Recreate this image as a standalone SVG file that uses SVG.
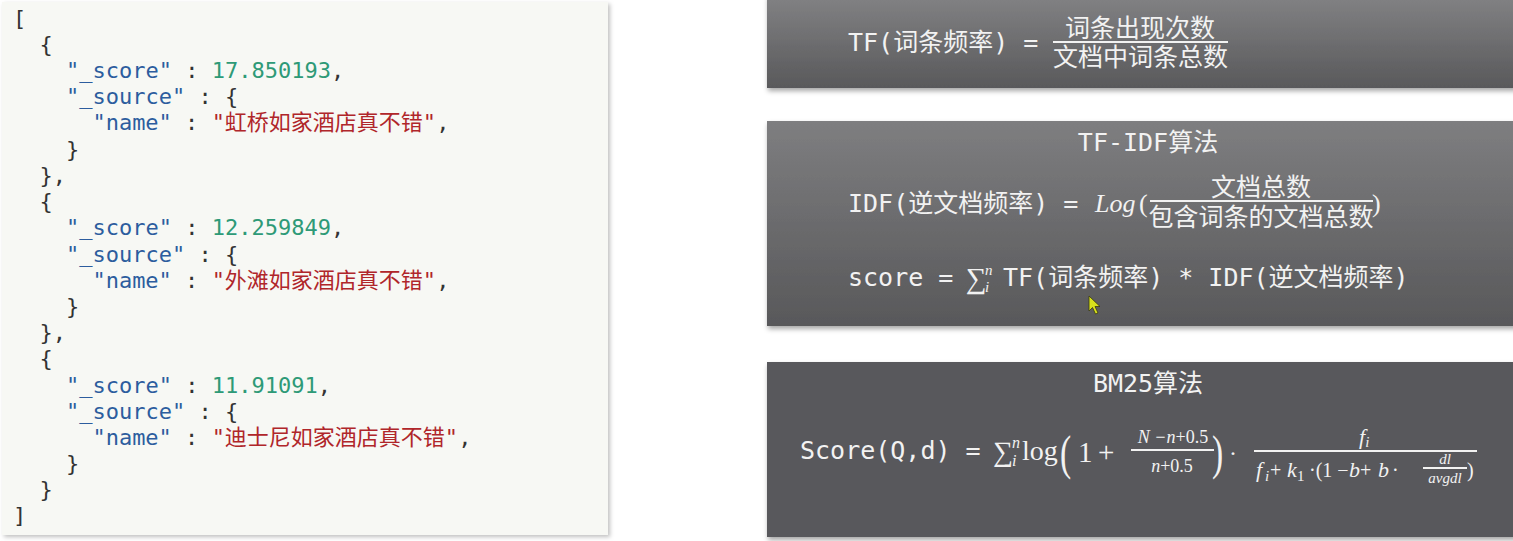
<svg xmlns="http://www.w3.org/2000/svg" width="1513" height="541" viewBox="0 0 1513 541">
<defs>
<linearGradient id="g1" x1="0" y1="0" x2="0" y2="1"><stop offset="0" stop-color="#828284"/><stop offset="1" stop-color="#59595b"/></linearGradient>
<linearGradient id="g2" x1="0" y1="0" x2="0" y2="1"><stop offset="0" stop-color="#7e7e80"/><stop offset="1" stop-color="#58585a"/></linearGradient>
<filter id="sh" x="-5%" y="-10%" width="110%" height="130%"><feDropShadow dx="1" dy="3" stdDeviation="2.5" flood-color="#000" flood-opacity="0.35"/></filter>
<filter id="sh2" x="-5%" y="-5%" width="110%" height="110%"><feDropShadow dx="2" dy="2" stdDeviation="2" flood-color="#000" flood-opacity="0.25"/></filter>
</defs>
<style>
.code{font-family:"DejaVu Sans Mono","Noto Sans CJK SC",monospace;font-size:22px;fill:#333}
.k{fill:#2c5d9e}.n{fill:#2e9a77}.s{fill:#b0262a}
.w{font-family:"DejaVu Sans Mono","Noto Sans CJK SC",monospace;font-size:25px;fill:#f2f2f2}
.m{font-family:"Liberation Serif","DejaVu Serif",serif;fill:#f2f2f2}
.it{font-style:italic}
.ln{stroke:#f2f2f2;stroke-width:2}
</style>
<rect width="1513" height="541" fill="#ffffff"/>
<g id="code-panel">
<rect x="2" y="2" width="606" height="533" fill="#f7f8f4" filter="url(#sh2)"/>
<text class="code" x="13" y="26">[</text>
<text class="code" x="39.5" y="52">{</text>
<text class="code" x="66" y="78"><tspan class="k">"_score"</tspan> : <tspan class="n">17.850193</tspan>,</text>
<text class="code" x="66" y="104"><tspan class="k">"_source"</tspan> : {</text>
<text class="code" x="92.4" y="130"><tspan class="k">"name"</tspan> : <tspan class="s">"虹桥如家酒店真不错"</tspan>,</text>
<text class="code" x="66" y="157">}</text>
<text class="code" x="39.5" y="183">},</text>
<text class="code" x="39.5" y="209">{</text>
<text class="code" x="66" y="235"><tspan class="k">"_score"</tspan> : <tspan class="n">12.259849</tspan>,</text>
<text class="code" x="66" y="262"><tspan class="k">"_source"</tspan> : {</text>
<text class="code" x="92.4" y="288"><tspan class="k">"name"</tspan> : <tspan class="s">"外滩如家酒店真不错"</tspan>,</text>
<text class="code" x="66" y="314">}</text>
<text class="code" x="39.5" y="340">},</text>
<text class="code" x="39.5" y="366">{</text>
<text class="code" x="66" y="393"><tspan class="k">"_score"</tspan> : <tspan class="n">11.91091</tspan>,</text>
<text class="code" x="66" y="419"><tspan class="k">"_source"</tspan> : {</text>
<text class="code" x="92.4" y="445"><tspan class="k">"name"</tspan> : <tspan class="s">"迪士尼如家酒店真不错"</tspan>,</text>
<text class="code" x="66" y="471">}</text>
<text class="code" x="39.5" y="497">}</text>
<text class="code" x="13" y="523">]</text>
</g>
<g id="tf-box">
<rect x="767" y="-5" width="750" height="93" fill="url(#g1)" filter="url(#sh)"/>
<text class="w" x="848" y="51">TF(词条频率) =</text>
<text class="w" x="1140" y="37" text-anchor="middle">词条出现次数</text>
<line class="ln" x1="1053" y1="42" x2="1228" y2="42"/>
<text class="w" x="1140.5" y="66" text-anchor="middle">文档中词条总数</text>
</g>
<g id="tfidf-box">
<rect x="767" y="121" width="750" height="205" fill="url(#g2)" filter="url(#sh)"/>
<text class="w" x="1148" y="151" text-anchor="middle">TF-IDF算法</text>
<text class="w" x="848" y="212">IDF(逆文档频率) =</text>
<text class="m it" x="1095" y="212" font-size="26">Log</text>
<text class="m" x="1139" y="212" font-size="26">(</text>
<text class="w" x="1261" y="196" text-anchor="middle">文档总数</text>
<line class="ln" x1="1150" y1="201" x2="1373" y2="201"/>
<text class="w" x="1261" y="226" text-anchor="middle">包含词条的文档总数</text>
<text class="m" x="1372" y="212" font-size="26">)</text>
<text class="w" x="848" y="286">score =</text>
<text class="m" x="966" y="288" font-size="29">∑</text>
<text class="m it" x="985" y="275" font-size="15">n</text>
<text class="m it" x="985" y="292" font-size="15">i</text>
<text class="w" x="1003" y="286">TF(词条频率) * IDF(逆文档频率)</text>
</g>
<g id="bm25-box">
<rect x="767" y="362" width="750" height="175" fill="#59595b" filter="url(#sh)"/>
<text class="w" x="1148" y="392" text-anchor="middle">BM25算法</text>
<text class="w" x="800" y="459">Score(Q,d) =</text>
<text class="m" x="993" y="461" font-size="28">∑</text>
<text class="m it" x="1012" y="448" font-size="16">n</text>
<text class="m it" x="1012" y="466" font-size="16">i</text>
<text class="m" x="1022" y="460" font-size="28">log</text>
<text class="m" x="1060" y="469" font-size="48" transform="translate(1060 0) scale(0.7 1) translate(-1060 0)">(</text>
<text class="m" x="1078" y="462" font-size="29">1</text>
<text class="m" x="1098" y="462" font-size="29">+</text>
<text class="m it" x="1173" y="443" font-size="18" text-anchor="middle">N −n<tspan font-style="normal">+0.5</tspan></text>
<line class="ln" x1="1131" y1="450" x2="1214" y2="450" stroke-width="1.5"/>
<text class="m it" x="1172" y="472" font-size="18" text-anchor="middle">n<tspan font-style="normal">+0.5</tspan></text>
<text class="m" x="1212" y="469" font-size="48" transform="translate(1212 0) scale(0.7 1) translate(-1212 0)">)</text>
<text class="m" x="1229" y="461" font-size="24">·</text>
<text class="m it" x="1359" y="444" font-size="22">f<tspan font-size="15" dy="3">i</tspan></text>
<line class="ln" x1="1254" y1="451" x2="1477" y2="451" stroke-width="1.5"/>
<text class="m it" x="1256" y="477" font-size="22">f</text>
<text class="m it" x="1265" y="481" font-size="15">i</text>
<text class="m" x="1270" y="477" font-size="20">+</text>
<text class="m it" x="1287" y="477" font-size="22">k</text>
<text class="m" x="1297" y="481" font-size="15">1</text>
<text class="m" x="1309" y="477" font-size="20">·(1 −</text>
<text class="m it" x="1349" y="477" font-size="22">b</text>
<text class="m" x="1360" y="477" font-size="20">+</text>
<text class="m it" x="1378" y="477" font-size="22">b</text>
<text class="m" x="1392" y="477" font-size="20">·</text>
<text class="m it" x="1445" y="464" font-size="15" text-anchor="middle">dl</text>
<line class="ln" x1="1423" y1="468" x2="1467" y2="468" stroke-width="1"/>
<text class="m it" x="1445" y="483" font-size="15" text-anchor="middle">avgdl</text>
<text class="m" x="1467" y="477" font-size="20">)</text>
</g>
<g id="cursor">
<polygon points="1089,296 1089,311 1092.5,307.5 1095.5,314 1098,313 1095,306.5 1100,306.5" fill="#d8e21c" stroke="#3a3a10" stroke-width="0.8"/>
</g>
</svg>
